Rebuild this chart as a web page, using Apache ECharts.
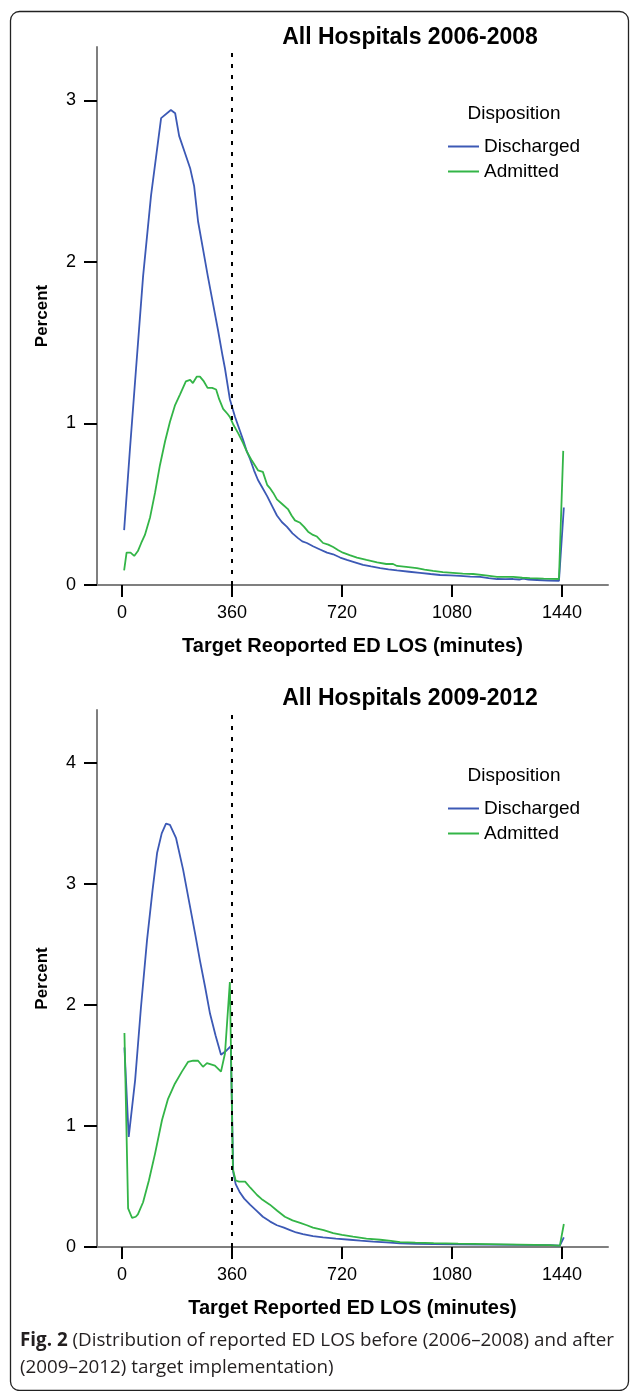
<!DOCTYPE html>
<html>
<head>
<meta charset="utf-8">
<script src="https://cdn.jsdelivr.net/npm/echarts@6/dist/echarts.min.js"></script>
<style>
html,body{margin:0;padding:0;background:#fff;}
#chart{width:630px;height:1391px;}
</style>
</head>
<body>
<div id="chart"></div>
<script>
// ---------- data ----------
const titles = ['All Hospitals 2006-2008', 'All Hospitals 2009-2012'];
const xAxisNames = ['Target Reoported ED LOS (minutes)', 'Target Reported ED LOS (minutes)'];
const yAxisName = 'Percent';
const legendTitle = 'Disposition';
const seriesNames = ['Discharged', 'Admitted'];
const xTicks = [0, 360, 720, 1080, 1440];
const yTicksTop = [0, 1, 2, 3];
const yTicksBottom = [0, 1, 2, 3, 4];
const targetMinutes = 360;
const caption = '{b|Fig. 2} (Distribution of reported ED LOS before (2006\u20132008) and after\n(2009\u20132012) target implementation)';

// [minutes, percent]
const dischargedBefore = [
  [7,0.34],[26,0.84],[46,1.34],[69,1.91],[95,2.41],[128,2.89],[160,2.94],[174,2.92],[187,2.78],[205,2.68],
  [223,2.58],[236,2.47],[249,2.25],[265,2.08],[281,1.91],[298,1.74],[314,1.58],[328,1.43],[337,1.34],[353,1.15],
  [370,1.04],[383,0.97],[396,0.90],[408,0.83],[419,0.78],[432,0.71],[445,0.65],[460,0.60],[475,0.55],[491,0.49],
  [507,0.43],[523,0.39],[540,0.36],[558,0.32],[576,0.29],[590,0.27],[605,0.26],[625,0.24],[648,0.22],[671,0.20],
  [691,0.19],[714,0.17],[736,0.155],[762,0.14],[789,0.124],[815,0.115],[845,0.105],[872,0.097],[900,0.09],[940,0.082],
  [975,0.075],[1010,0.068],[1041,0.062],[1075,0.059],[1106,0.056],[1140,0.052],[1172,0.05],[1200,0.042],[1227,0.037],[1255,0.036],
  [1280,0.037],[1300,0.034],[1313,0.04],[1330,0.033],[1358,0.031],[1395,0.028],[1430,0.025],[1446,0.48]
];
const admittedBefore = [
  [7,0.09],[15,0.20],[28,0.20],[40,0.18],[52,0.21],[63,0.26],[75,0.31],[92,0.42],[108,0.57],[124,0.74],
  [141,0.89],[157,1.01],[173,1.11],[190,1.18],[209,1.26],[223,1.27],[232,1.25],[245,1.29],[255,1.29],[268,1.26],
  [280,1.22],[295,1.22],[308,1.21],[318,1.15],[331,1.09],[345,1.06],[353,1.04],[365,0.99],[380,0.94],[396,0.88],
  [410,0.82],[425,0.77],[445,0.71],[461,0.70],[475,0.62],[484,0.60],[495,0.57],[507,0.53],[525,0.50],[543,0.47],
  [555,0.43],[566,0.40],[583,0.385],[596,0.36],[609,0.33],[625,0.31],[638,0.30],[658,0.26],[675,0.25],[691,0.235],
  [708,0.215],[723,0.20],[745,0.185],[769,0.17],[800,0.155],[835,0.14],[865,0.13],[887,0.13],[900,0.118],[930,0.112],
  [965,0.105],[990,0.095],[1018,0.087],[1050,0.08],[1083,0.075],[1115,0.07],[1149,0.068],[1190,0.06],[1227,0.05],[1255,0.05],
  [1280,0.05],[1310,0.045],[1335,0.043],[1380,0.04],[1430,0.037],[1444,0.83]
];
const dischargedAfter = [
  [8,1.65],[22,0.91],[43,1.38],[62,1.98],[82,2.54],[100,2.95],[115,3.26],[130,3.42],[144,3.50],[157,3.49],
  [177,3.38],[200,3.12],[223,2.81],[240,2.58],[255,2.37],[272,2.15],[288,1.93],[306,1.75],[324,1.59],[340,1.62],
  [356,1.66],[364,0.62],[372,0.52],[386,0.45],[400,0.40],[419,0.35],[440,0.30],[461,0.25],[485,0.21],[507,0.18],
  [530,0.16],[550,0.14],[570,0.12],[592,0.107],[625,0.09],[658,0.08],[700,0.07],[746,0.06],[780,0.052],[822,0.045],
  [865,0.038],[910,0.03],[960,0.027],[1020,0.025],[1100,0.022],[1200,0.02],[1300,0.017],[1400,0.015],[1433,0.012],[1446,0.08]
];
const admittedAfter = [
  [8,1.77],[20,0.32],[33,0.24],[45,0.25],[52,0.27],[69,0.37],[88,0.55],[108,0.77],[131,1.05],[150,1.22],
  [173,1.35],[196,1.45],[216,1.53],[233,1.54],[249,1.54],[265,1.49],[278,1.52],[291,1.51],[304,1.50],[324,1.45],
  [337,1.60],[353,2.19],[363,0.64],[372,0.55],[383,0.54],[403,0.54],[420,0.49],[442,0.43],[460,0.39],[484,0.35],
  [508,0.30],[533,0.25],[558,0.22],[583,0.20],[605,0.18],[625,0.16],[660,0.14],[691,0.115],[720,0.10],[756,0.085],
  [800,0.07],[845,0.06],[880,0.05],[910,0.04],[960,0.036],[1020,0.032],[1100,0.028],[1200,0.024],[1300,0.02],[1400,0.016],
  [1433,0.012],[1446,0.19]
];

// ---------- styles ----------
const BLUE = '#3c59b5';
const GREEN = '#33b547';
const AXIS_GREY = '#7f7f7f';
const SANS = '"Liberation Sans", Arial, sans-serif';
const CAPTION_FONT = '"Open Sans", "Noto Sans", sans-serif';

function plainNumber(v) { return String(v); }

function xAxisOpt(gridIndex, name) {
  return {
    type: 'value', gridIndex: gridIndex,
    min: -81.8, max: 1590.5,
    name: name, nameLocation: 'middle', nameGap: 51,
    nameTextStyle: { fontFamily: SANS, fontWeight: 'bold', fontSize: 20, color: '#000' },
    axisLine: { show: true, onZero: false, lineStyle: { color: AXIS_GREY, width: 2 } },
    axisTick: { show: true, length: 12, customValues: xTicks, lineStyle: { color: '#000', width: 2 } },
    axisLabel: { customValues: xTicks, formatter: plainNumber, margin: 19, fontFamily: SANS, fontSize: 18, color: '#000' },
    splitLine: { show: false }
  };
}
function yAxisOpt(gridIndex, max, ticks) {
  return {
    type: 'value', gridIndex: gridIndex,
    min: 0, max: max,
    name: yAxisName, nameLocation: 'middle', nameGap: 46, nameRotate: 90,
    nameTextStyle: { fontFamily: SANS, fontWeight: 'bold', fontSize: 17, color: '#000' },
    axisLine: { show: true, onZero: false, lineStyle: { color: AXIS_GREY, width: 2 } },
    axisTick: { show: true, length: 13, customValues: ticks, lineStyle: { color: '#000', width: 2 } },
    axisLabel: { customValues: ticks, formatter: plainNumber, margin: 21, fontFamily: SANS, fontSize: 18, color: '#000' },
    splitLine: { show: false }
  };
}
function lineSeries(name, data, color, idx, withTarget) {
  const s = {
    name: name, type: 'line', xAxisIndex: idx, yAxisIndex: idx,
    data: data, showSymbol: false, symbol: 'none',
    lineStyle: { color: color, width: 1.8 }, itemStyle: { color: color },
    animation: false, silent: true
  };
  if (withTarget) {
    s.markLine = {
      silent: true, symbol: ['none', 'none'], animation: false,
      label: { show: false },
      lineStyle: { color: '#000', type: [4, 7], width: 2 },
      data: [{ xAxis: targetMinutes }]
    };
  }
  return s;
}
function legendOpt(top) {
  return {
    orient: 'vertical', left: 448, top: top, itemGap: 6,
    itemWidth: 31, itemHeight: 2, icon: 'rect', padding: 0,
    selectedMode: false,
    data: seriesNames,
    textStyle: { fontFamily: SANS, fontSize: 19, color: '#000' }
  };
}

const chart = echarts.init(document.getElementById('chart'), null, { renderer: 'canvas' });
chart.setOption({
  backgroundColor: '#fff',
  animation: false,
  title: [
    { text: titles[0], left: 410, top: 26, textAlign: 'center', padding: 0,
      textStyle: { fontFamily: SANS, fontWeight: 'bold', fontSize: 23, color: '#000' } },
    { text: legendTitle, left: 514, top: 104, textAlign: 'center', padding: 0,
      textStyle: { fontFamily: SANS, fontWeight: 'normal', fontSize: 19, color: '#000' } },
    { text: titles[1], left: 410, top: 687, textAlign: 'center', padding: 0,
      textStyle: { fontFamily: SANS, fontWeight: 'bold', fontSize: 23, color: '#000' } },
    { text: legendTitle, left: 514, top: 766, textAlign: 'center', padding: 0,
      textStyle: { fontFamily: SANS, fontWeight: 'normal', fontSize: 19, color: '#000' } },
    { text: caption, left: 20, top: 1327, padding: 0,
      textStyle: { fontFamily: CAPTION_FONT, fontWeight: 'normal', fontSize: 18.8, lineHeight: 27, color: '#231f20',
        rich: { b: { fontFamily: CAPTION_FONT, fontWeight: 'bold', fontSize: 18.8, lineHeight: 27, color: '#231f20' } } } }
  ],
  legend: [legendOpt(137), legendOpt(799)],
  grid: [
    { left: 97, top: 47, width: 511, height: 538, containLabel: false, outerBoundsMode: 'none' },
    { left: 97, top: 710, width: 511, height: 537, containLabel: false, outerBoundsMode: 'none' }
  ],
  xAxis: [xAxisOpt(0, xAxisNames[0]), xAxisOpt(1, xAxisNames[1])],
  yAxis: [yAxisOpt(0, 3.33, yTicksTop), yAxisOpt(1, 4.44, yTicksBottom)],
  series: [
    lineSeries(seriesNames[0], dischargedBefore, BLUE, 0, true),
    lineSeries(seriesNames[1], admittedBefore, GREEN, 0, false),
    lineSeries(seriesNames[0], dischargedAfter, BLUE, 1, true),
    lineSeries(seriesNames[1], admittedAfter, GREEN, 1, false)
  ],
  graphic: [
    { type: 'rect', silent: true, z: 100,
      shape: { x: 10.5, y: 11.5, width: 618, height: 1379, r: 9 },
      style: { fill: 'none', stroke: '#222', lineWidth: 1.3 } }
  ]
});
</script>
</body>
</html>
